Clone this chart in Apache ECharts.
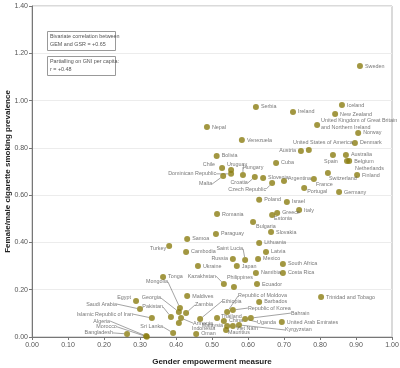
<!DOCTYPE html>
<html><head><meta charset="utf-8">
<script src="https://cdn.jsdelivr.net/npm/echarts@6/dist/echarts.min.js"></script>
<style>html,body{margin:0;padding:0;background:#fff}#c{width:400px;height:368px}</style>
</head><body><div id="c"></div>
<script>
const countries = ["Sweden","Serbia","Ireland","Iceland","New Zealand","United Kingdom of Great Britain\nand Northern Ireland","Nepal","Norway","Venezuela","United States of America","Austria","Denmark","Bolivia","Australia","Spain","Belgium","Netherlands","Cuba","Chile","Uruguay","Dominican Republic","Malta","Hungary","Croatia","Slovenia","Czech Republic","Argentina","France","Switzerland","Finland","Portugal","Germany","Poland","Israel","Italy","Greece","Estonia","Romania","Bulgaria","Slovakia","Paraguay","Lithuania","Samoa","Turkey","Latvia","Saint Lucia","Russia","Mexico","Japan","South Africa","Costa Rica","Namibia","Kazakhstan","Philippines","Ecuador","Trinidad and Tobago","Cambodia","Ukraine","Tonga","Egypt","Saudi Arabia","Islamic Republic of Iran","Algeria","Morocco","Bangladesh","Sri Lanka","Pakistan","Mongolia","Georgia","Zambia","Armenia","Indonesia","Maldives","Ethiopia","Oman","Republic of Moldova","Republic of Korea","Barbados","Thailand","China","Malaysia","Viet Nam","Kyrgyzstan","Mauritius","Uganda","Bahrain","United Arab Emirates"];
const gem = [0.911,0.622,0.725,0.861,0.842,0.792,0.486,0.906,0.583,0.769,0.747,0.897,0.513,0.872,0.836,0.881,0.875,0.678,0.528,0.553,0.553,0.531,0.586,0.619,0.642,0.667,0.700,0.783,0.822,0.903,0.756,0.853,0.631,0.708,0.742,0.681,0.667,0.514,0.614,0.664,0.511,0.631,0.431,0.381,0.650,0.592,0.558,0.628,0.569,0.697,0.697,0.622,0.533,0.561,0.625,0.803,0.428,0.461,0.364,0.289,0.300,0.333,0.317,0.319,0.264,0.392,0.386,0.411,0.408,0.428,0.414,0.408,0.431,0.467,0.456,0.542,0.558,0.631,0.514,0.533,0.542,0.558,0.575,0.539,0.592,0.608,0.694];
const gsr = [1.146,0.973,0.952,0.981,0.943,0.897,0.888,0.863,0.833,0.791,0.787,0.821,0.766,0.770,0.770,0.744,0.744,0.736,0.715,0.706,0.690,0.681,0.685,0.677,0.673,0.651,0.660,0.668,0.694,0.685,0.630,0.613,0.580,0.571,0.537,0.525,0.516,0.520,0.486,0.444,0.436,0.398,0.415,0.385,0.360,0.326,0.330,0.330,0.300,0.309,0.271,0.271,0.224,0.212,0.224,0.169,0.360,0.300,0.254,0.152,0.118,0.080,0.004,0.001,0.013,0.017,0.085,0.123,0.106,0.102,0.080,0.059,0.173,0.076,0.013,0.106,0.114,0.148,0.080,0.068,0.047,0.047,0.051,0.030,0.076,0.080,0.063];
const yTicks = ["0.00","0.20","0.40","0.60","0.80","1.00","1.20","1.40"];
const xTicks = ["0.00","0.10","0.20","0.30","0.40","0.50","0.60","0.70","0.80","0.90","1.00"];
const noteLines = ["Bivariate correlation between\nGEM and GSR = +0.65","Partialling on GNI per capita:\nr = +0.48"];

// label placement relative to dot centre: [dx, dy, align, leaderLine]
const place = {
 "United Kingdom of Great Britain\nand Northern Ireland":[4,-1,'left'],
 "United States of America":[14,-7,'center'],
 "Austria":[-5,0,'right'],
 "Spain":[-2,7,'center'],
 "Netherlands":[8,7,'left'],
 "Switzerland":[1,6,'left'],
 "France":[2,5,'left'],
 "Portugal":[3,3,'left'],
 "Argentina":[4,-2,'left'],
 "Chile":[-7,-3,'right'],
 "Uruguay":[6,-6,'center'],
 "Dominican Republic":[-15,0,'right',1],
 "Malta":[-11,8,'right',1],
 "Hungary":[0,-8,'left',1],
 "Croatia":[-7,6,'right',1],
 "Czech Republic":[-6,6,'right',1],
 "Estonia":[2,4,'left'],
 "Bulgaria":[3,4,'left'],
 "Turkey":[-3,3,'right'],
 "Russia":[-5,0,'right'],
 "Saint Lucia":[-2,-11,'right',1],
 "Kazakhstan":[-8,-8,'right',1],
 "Philippines":[6,-9,'center'],
 "Egypt":[-5,-4,'right'],
 "Saudi Arabia":[-23,-5,'right',1],
 "Islamic Republic of Iran":[-19,-4,'right',1],
 "Algeria":[-36,-15,'right',1],
 "Morocco":[-30,-10,'right',1],
 "Bangladesh":[-14,-1,'right',1],
 "Sri Lanka":[-10,-6,'right',1],
 "Pakistan":[-8,-10,'right',1],
 "Georgia":[-18,-14,'right',1],
 "Mongolia":[-12,-26,'right',1],
 "Zambia":[9,-8,'left',1],
 "Armenia":[12,5,'left',1],
 "Indonesia":[13,5,'left'],
 "Ethiopia":[22,-18,'left',1],
 "Republic of Moldova":[11,-16,'left',1],
 "Republic of Korea":[15,-2,'left',1],
 "Thailand":[4,-2,'left'],
 "Malaysia":[-4,0,'right'],
 "Viet Nam":[3,3,'left'],
 "Mauritius":[2,3,'left'],
 "Kyrgyzstan":[46,5,'left',1],
 "Uganda":[12,3,'left',1],
 "Bahrain":[40,-5,'left',1]
};

const FONT = '"Liberation Sans Narrow","Liberation Sans",Arial,sans-serif';
const data = countries.map((n,i)=>{
  const item = {name:n, value:[gem[i], gsr[i]]};
  if (place[n] && place[n][3]) item.labelLine = {show:true};
  return item;
});

const chart = echarts.init(document.getElementById('c'), null, {renderer:'canvas'});
chart.setOption({
  animation:false,
  grid:{left:32,right:8,top:6,bottom:31,containLabel:false,outerBoundsMode:'none',show:true,borderColor:'#b5b5b5',borderWidth:1},
  xAxis:{type:'value',min:0,max:1,interval:0.1,
    name:'Gender empowerment measure',nameLocation:'middle',nameGap:21,nameMoveOverlap:false,
    nameTextStyle:{fontFamily:FONT,fontSize:8,fontWeight:'bold',color:'#222'},
    axisLine:{lineStyle:{color:'#777'}},axisTick:{show:true,length:3,lineStyle:{color:'#777'}},
    axisLabel:{fontFamily:FONT,fontSize:7,color:'#555',margin:5,formatter:(v)=>xTicks[Math.round(v*10)]},
    splitLine:{show:false}},
  yAxis:{type:'value',min:0,max:1.4,interval:0.2,
    name:'Female/male cigarette smoking prevalence',nameLocation:'middle',nameGap:20,nameMoveOverlap:false,
    nameTextStyle:{fontFamily:FONT,fontSize:8,fontWeight:'bold',color:'#222'},
    axisLine:{show:true,lineStyle:{color:'#777'}},axisTick:{show:true,length:3,lineStyle:{color:'#777'}},
    axisLabel:{fontFamily:FONT,fontSize:7,color:'#555',margin:4,formatter:(v)=>yTicks[Math.round(v*5)]},
    splitLine:{show:true,lineStyle:{color:'#ececec',width:1}}},
  series:[{type:'scatter',data:data,symbolSize:6,
    itemStyle:{color:'#8b7d12'},
    label:{show:true,position:'right',distance:2,formatter:'{b}',fontFamily:FONT,fontSize:5.4,color:'#555',lineHeight:7},
    labelLine:{show:false,length2:0,lineStyle:{color:'#666',width:0.6}},
    labelLayout:function(p){
      const pl = place[countries[p.dataIndex]];
      if(!pl) return {};
      const cx = p.rect.x + p.rect.width/2, cy = p.rect.y + p.rect.height/2;
      return {x:cx+pl[0], y:cy+pl[1], align:pl[2], verticalAlign:'middle'};
    }
  }],
  graphic:[
    {type:'rect',shape:{x:47.5,y:31.5,width:68,height:19},style:{fill:'#fff',stroke:'#999',lineWidth:1}},
    {type:'text',x:50,y:33,style:{text:noteLines[0],font:'5.4px '+FONT,fill:'#555',lineHeight:8}},
    {type:'rect',shape:{x:47.5,y:56.5,width:68,height:19},style:{fill:'#fff',stroke:'#999',lineWidth:1}},
    {type:'text',x:50,y:58,style:{text:noteLines[1],font:'5.4px '+FONT,fill:'#555',lineHeight:8}}
  ]
});
</script></body></html>
